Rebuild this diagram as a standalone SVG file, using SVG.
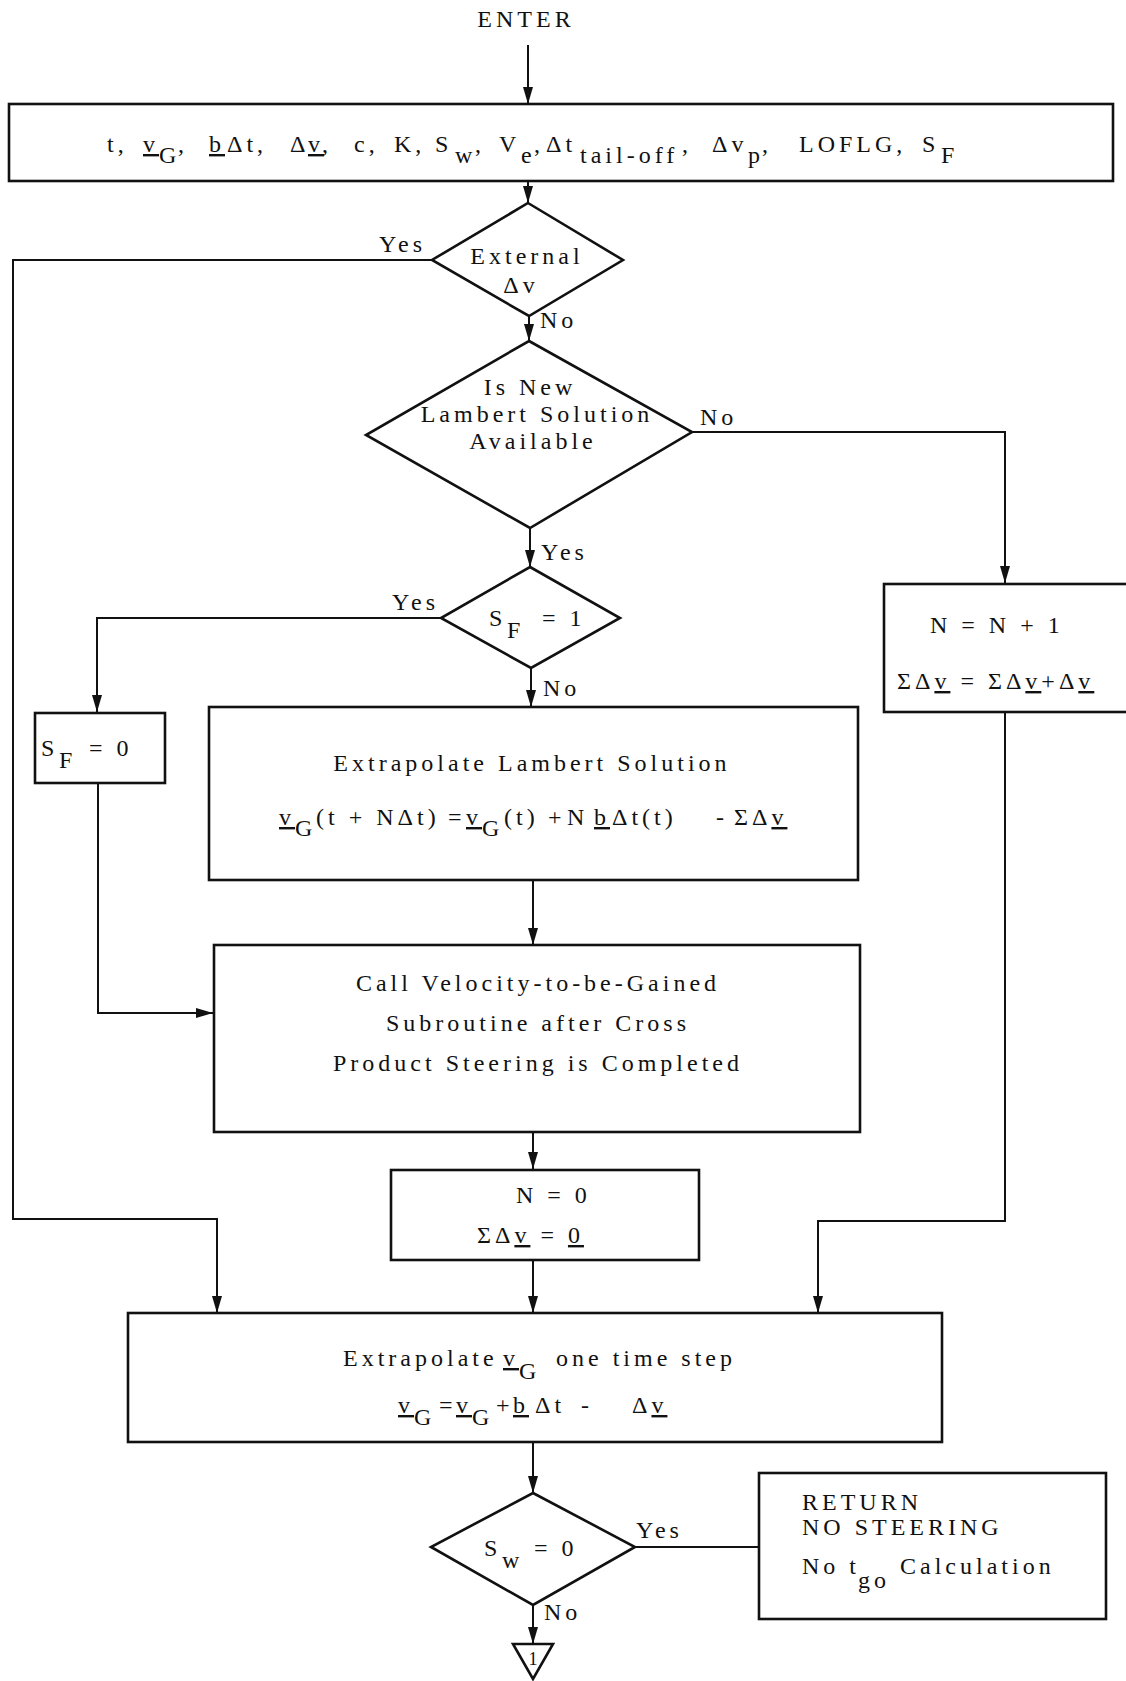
<svg xmlns="http://www.w3.org/2000/svg" width="1126" height="1681" viewBox="0 0 1126 1681">
  <defs>
    <marker id="arrow" markerUnits="userSpaceOnUse" markerWidth="18" markerHeight="12" refX="17" refY="5" orient="auto">
      <path d="M0,0 L17,5 L0,10 z" fill="#111"/>
    </marker>
    <style>
      .t { font-family: "Liberation Serif", "Times New Roman", serif; font-size: 24px; letter-spacing: 4px; fill: #111; }
      .c { text-anchor: middle; }
      .e { text-anchor: end; }
      .u { text-decoration: underline; }
      .box { fill: #fff; stroke: #111; stroke-width: 2.6; }
      .wire { fill: none; stroke: #111; stroke-width: 2; }
    </style>
  </defs>
  <rect width="1126" height="1681" fill="#fff"/>

  <!-- connectors -->
  <g id="connectors">
    <path class="wire" d="M528,45 V104" marker-end="url(#arrow)"/>
    <path class="wire" d="M528,181 V203" marker-end="url(#arrow)"/>
    <path class="wire" d="M432,260 H13 V1219 H217 V1313" marker-end="url(#arrow)"/>
    <path class="wire" d="M529,316 V341" marker-end="url(#arrow)"/>
    <path class="wire" d="M692,432 H1005 V583" marker-end="url(#arrow)"/>
    <path class="wire" d="M530,528 V567" marker-end="url(#arrow)"/>
    <path class="wire" d="M441,618 H97 V712" marker-end="url(#arrow)"/>
    <path class="wire" d="M531,668 V707" marker-end="url(#arrow)"/>
    <path class="wire" d="M533,880 V945" marker-end="url(#arrow)"/>
    <path class="wire" d="M98,783 V1013 H213" marker-end="url(#arrow)"/>
    <path class="wire" d="M533,1132 V1169" marker-end="url(#arrow)"/>
    <path class="wire" d="M533,1260 V1313" marker-end="url(#arrow)"/>
    <path class="wire" d="M1005,711 V1221 H818 V1313" marker-end="url(#arrow)"/>
    <path class="wire" d="M533,1442 V1493" marker-end="url(#arrow)"/>
    <path class="wire" d="M635,1547 H759"/>
    <path class="wire" d="M533,1605 V1644" marker-end="url(#arrow)"/>

    <text class="t e" x="426" y="252">Yes</text>
    <text class="t" x="540" y="328">No</text>
    <text class="t" x="700" y="425">No</text>
    <text class="t" x="541" y="560">Yes</text>
    <text class="t e" x="439" y="610">Yes</text>
    <text class="t" x="543" y="696">No</text>
    <text class="t" x="636" y="1538">Yes</text>
    <text class="t" x="544" y="1620">No</text>
  </g>

  <!-- entry -->
  <g id="enter">
    <text class="t c" x="526" y="27">ENTER</text>
  </g>

  <!-- input list -->
  <g id="inputs">
    <rect class="box" x="9" y="104" width="1104" height="77"/>
    <text class="t">
      <tspan x="107" y="152">t,</tspan>
      <tspan x="143" y="152" class="u">v</tspan><tspan x="159" y="163">G</tspan><tspan x="178" y="152">,</tspan>
      <tspan x="209" y="152" class="u">b</tspan><tspan x="227" y="152">Δt,</tspan>
      <tspan x="290" y="152">Δ</tspan><tspan x="308" y="152" class="u">v</tspan><tspan x="322" y="152">,</tspan>
      <tspan x="354" y="152">c,</tspan>
      <tspan x="394" y="152">K,</tspan>
      <tspan x="435" y="152">S</tspan><tspan x="455" y="163">w</tspan><tspan x="475" y="152">,</tspan>
      <tspan x="499" y="152">V</tspan><tspan x="521" y="163">e</tspan><tspan x="534" y="152">,</tspan>
      <tspan x="546" y="152">Δt</tspan><tspan x="580" y="163">tail-off</tspan><tspan x="682" y="152">,</tspan>
      <tspan x="712" y="152">Δv</tspan><tspan x="748" y="163">p</tspan><tspan x="762" y="152">,</tspan>
      <tspan x="799" y="152">LOFLG,</tspan>
      <tspan x="922" y="152">S</tspan><tspan x="941" y="163">F</tspan>
    </text>
  </g>

  <!-- external delta-v decision -->
  <g id="external-dv">
    <polygon class="box" points="528,203 623,260 529,316 432,260"/>
    <text class="t c" x="527" y="264">External</text>
    <text class="t c" x="521" y="293">Δv</text>
  </g>

  <!-- new Lambert solution decision -->
  <g id="lambert-available">
    <polygon class="box" points="529,341 692,432 530,528 366,435"/>
    <text class="t c" x="530" y="395">Is New</text>
    <text class="t c" x="537" y="422">Lambert Solution</text>
    <text class="t c" x="533" y="449">Available</text>
  </g>

  <!-- S_F = 1 decision -->
  <g id="sf-check">
    <polygon class="box" points="530,567 620,618 531,668 441,618"/>
    <text class="t">
      <tspan x="489" y="626">S</tspan><tspan x="507" y="638">F</tspan>
      <tspan x="542" y="626">= 1</tspan>
    </text>
  </g>

  <!-- S_F = 0 -->
  <g id="sf-reset">
    <rect class="box" x="35" y="713" width="130" height="70"/>
    <text class="t">
      <tspan x="41" y="756">S</tspan><tspan x="59" y="768">F</tspan>
      <tspan x="89" y="756">= 0</tspan>
    </text>
  </g>

  <!-- N = N + 1 -->
  <g id="count-step">
    <rect class="box" x="884" y="584" width="250" height="128"/>
    <text class="t" x="930" y="633">N = N + 1</text>
    <text class="t">
      <tspan x="897" y="689">ΣΔ</tspan><tspan class="u">v</tspan><tspan> = ΣΔ</tspan><tspan class="u">v</tspan><tspan>+Δ</tspan><tspan class="u">v</tspan>
    </text>
  </g>

  <!-- extrapolate Lambert solution -->
  <g id="extrapolate-lambert">
    <rect class="box" x="209" y="707" width="649" height="173"/>
    <text class="t c" x="532" y="771">Extrapolate Lambert Solution</text>
    <text class="t">
      <tspan x="279" y="825" class="u">v</tspan><tspan x="295" y="836">G</tspan><tspan x="316" y="825">(t + NΔt)</tspan>
      <tspan x="448" y="825">=</tspan>
      <tspan x="466" y="825" class="u">v</tspan><tspan x="482" y="836">G</tspan><tspan x="504" y="825">(t)</tspan>
      <tspan x="548" y="825">+</tspan>
      <tspan x="567" y="825">N</tspan><tspan x="594" y="825" class="u">b</tspan><tspan x="612" y="825">Δt(t)</tspan>
      <tspan x="716" y="825">-</tspan>
      <tspan x="734" y="825">ΣΔ</tspan><tspan class="u">v</tspan>
    </text>
  </g>

  <!-- velocity-to-be-gained call -->
  <g id="vg-call">
    <rect class="box" x="214" y="945" width="646" height="187"/>
    <text class="t c" x="538" y="991">Call Velocity-to-be-Gained</text>
    <text class="t c" x="538" y="1031">Subroutine after Cross</text>
    <text class="t c" x="538" y="1071">Product Steering is Completed</text>
  </g>

  <!-- reset counters -->
  <g id="reset-counters">
    <rect class="box" x="391" y="1170" width="308" height="90"/>
    <text class="t" x="516" y="1203">N = 0</text>
    <text class="t">
      <tspan x="477" y="1243">ΣΔ</tspan><tspan class="u">v</tspan><tspan> = </tspan><tspan class="u">0</tspan>
    </text>
  </g>

  <!-- extrapolate v_G one step -->
  <g id="extrapolate-vg">
    <rect class="box" x="128" y="1313" width="814" height="129"/>
    <text class="t">
      <tspan x="343" y="1366">Extrapolate</tspan>
      <tspan x="503" y="1366" class="u">v</tspan><tspan x="519" y="1379">G</tspan>
      <tspan x="556" y="1366">one time step</tspan>
    </text>
    <text class="t">
      <tspan x="398" y="1413" class="u">v</tspan><tspan x="414" y="1425">G</tspan>
      <tspan x="439" y="1413">=</tspan>
      <tspan x="456" y="1413" class="u">v</tspan><tspan x="472" y="1425">G</tspan>
      <tspan x="496" y="1413">+</tspan>
      <tspan x="513" y="1413" class="u">b</tspan>
      <tspan x="535" y="1413">Δt</tspan>
      <tspan x="581" y="1413">-</tspan>
      <tspan x="632" y="1413">Δ</tspan><tspan class="u">v</tspan>
    </text>
  </g>

  <!-- steering switch decision -->
  <g id="sw-check">
    <polygon class="box" points="533,1493 635,1547 533,1605 431,1547"/>
    <text class="t">
      <tspan x="484" y="1556">S</tspan><tspan x="502" y="1568">w</tspan>
      <tspan x="534" y="1556">= 0</tspan>
    </text>
  </g>

  <!-- return without steering -->
  <g id="return-no-steering">
    <rect class="box" x="759" y="1473" width="347" height="146"/>
    <text class="t" x="802" y="1510">RETURN</text>
    <text class="t" x="802" y="1535">NO STEERING</text>
    <text class="t">
      <tspan x="802" y="1574">No t</tspan><tspan x="858" y="1588">go</tspan><tspan x="900" y="1574">Calculation</tspan>
    </text>
  </g>

  <!-- off-page connector 1 -->
  <g id="connector-1">
    <polygon class="box" points="513,1644 553,1644 533,1679"/>
    <text class="t c" x="535" y="1665" style="font-size:18px">1</text>
  </g>
</svg>
